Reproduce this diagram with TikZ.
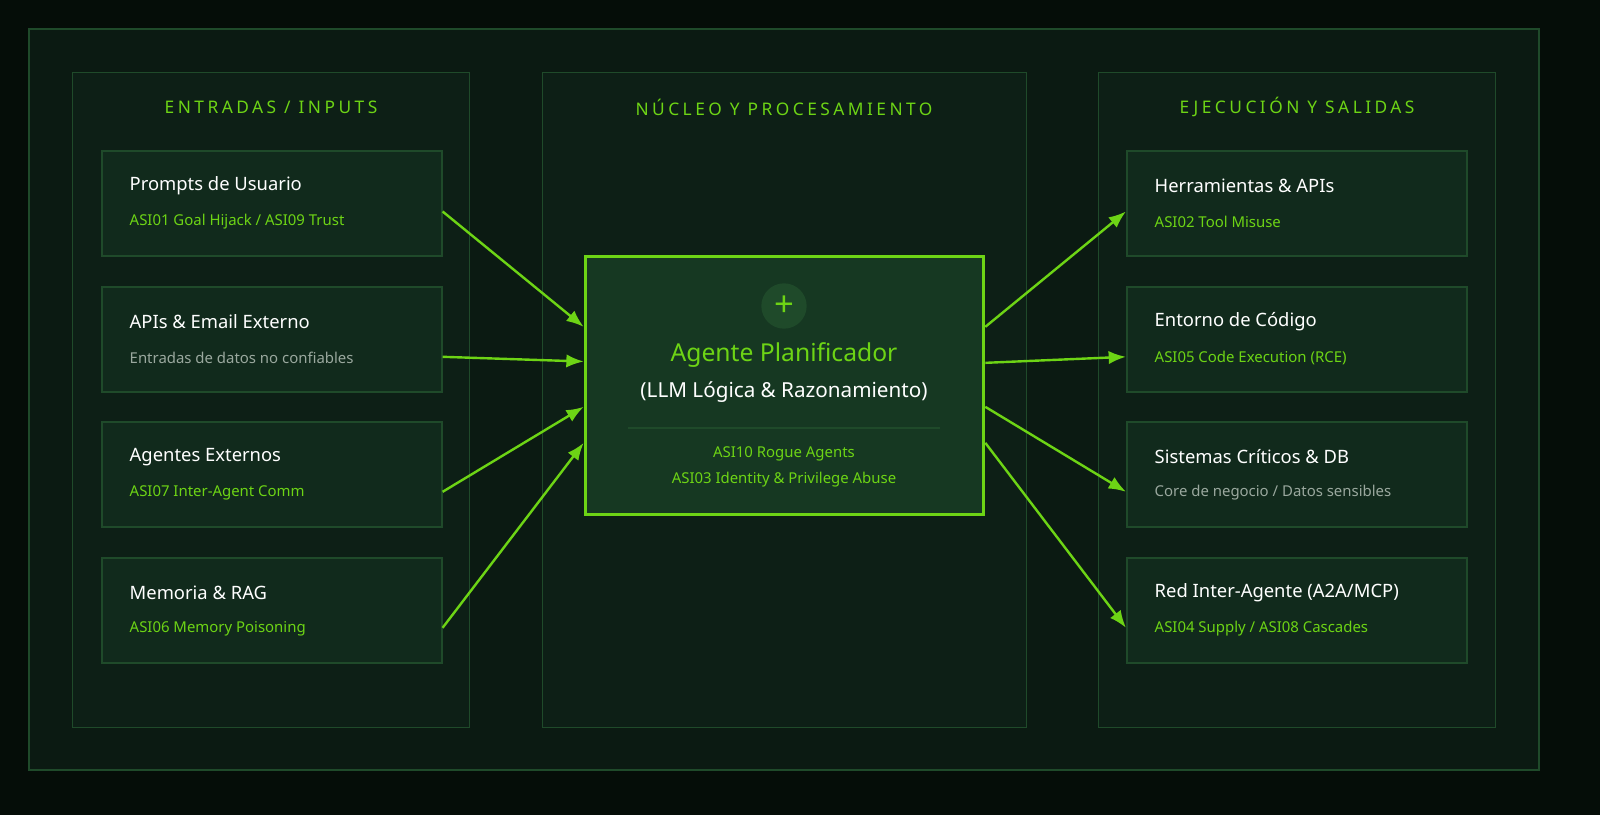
\documentclass[tikz,border=0pt]{standalone}
\usepackage{fontspec}
\setmainfont{Noto Sans}
\usetikzlibrary{arrows.meta,positioning}
\definecolor{bgdark}{HTML}{050D08}
\definecolor{framefill}{HTML}{0B1A12}
\definecolor{colfill}{HTML}{0D1F16}
\definecolor{boxfill}{HTML}{112A1C}
\definecolor{corefill}{HTML}{163822}
\definecolor{edgegreen}{HTML}{1F4A2A}
\definecolor{lime}{HTML}{6DD415}
\definecolor{greytext}{HTML}{9AA89E}
\tikzset{
  column/.style={draw=edgegreen, fill=colfill, line width=0.8pt, minimum width=298pt, minimum height=491pt, anchor=north west},
  coltitle/.style={text=lime, font=\fontsize{13}{14}\selectfont\addfontfeature{LetterSpace=20}},
  item/.style={draw=edgegreen, fill=boxfill, line width=1.2pt, minimum width=255pt, minimum height=79pt, anchor=north west},
  itemtitle/.style={text=white, font=\fontsize{13.8}{16}\selectfont, anchor=west},
  itemsub/.style={font=\fontsize{11.2}{13}\selectfont, anchor=west},
  flow/.style={draw=lime, line width=1.8pt, -{Latex[length=13pt,width=10pt]}}
}
\begin{document}
\begin{tikzpicture}[x=0.75pt,y=-0.75pt]
  \useasboundingbox[fill=bgdark] (0,0) rectangle (1600,815);
  \draw[draw=edgegreen, fill=framefill, line width=1.2pt] (29,29) rectangle (1539,770);
  % columns
  \node[column] (colin) at (72,72) {};
  \node[column, minimum width=363pt] (colcore) at (542,72) {};
  \node[column] (colout) at (1098,72) {};
  \node[coltitle] at (271,107) {ENTRADAS / INPUTS};
  \node[coltitle] at (784,107) {NÚCLEO Y PROCESAMIENTO};
  \node[coltitle] at (1297,107) {EJECUCIÓN Y SALIDAS};
  % inputs
  \node[item] (prompts) at (101,150) {};
  \node[item] (apis) at (101,286) {};
  \node[item] (agents) at (101,421) {};
  \node[item] (memory) at (101,557) {};
  \node[itemtitle] at (125,186) {Prompts de Usuario};
  \node[itemsub, text=lime] at (125,222) {ASI01 Goal Hijack / ASI09 Trust};
  \node[itemtitle] at (125,322) {APIs \& Email Externo};
  \node[itemsub, text=greytext] at (125,358) {Entradas de datos no confiables};
  \node[itemtitle] at (125,457) {Agentes Externos};
  \node[itemsub, text=lime] at (125,493) {ASI07 Inter-Agent Comm};
  \node[itemtitle] at (125,593) {Memoria \& RAG};
  \node[itemsub, text=lime] at (125,629) {ASI06 Memory Poisoning};
  % outputs
  \node[item] (tools) at (1126,150) {};
  \node[item] (code) at (1126,286) {};
  \node[item] (systems) at (1126,421) {};
  \node[item] (network) at (1126,557) {};
  \node[itemtitle] at (1150,186) {Herramientas \& APIs};
  \node[itemsub, text=lime] at (1150,222) {ASI02 Tool Misuse};
  \node[itemtitle] at (1150,322) {Entorno de Código};
  \node[itemsub, text=lime] at (1150,358) {ASI05 Code Execution (RCE)};
  \node[itemtitle] at (1150,457) {Sistemas Críticos \& DB};
  \node[itemsub, text=greytext] at (1150,493) {Core de negocio / Datos sensibles};
  \node[itemtitle] at (1150,593) {Red Inter-Agente (A2A/MCP)};
  \node[itemsub, text=lime] at (1150,629) {ASI04 Supply / ASI08 Cascades};
  % core
  \node[draw=lime, fill=corefill, line width=2.2pt, minimum width=299pt, minimum height=193pt] (core) at (784.5,385.5) {};
  \node[circle, fill=edgegreen, minimum size=34pt, inner sep=0pt, text=lime, font=\fontsize{26}{26}\selectfont] (icon) at (784,306) {+};
  \node[text=lime, font=\fontsize{18.5}{20}\selectfont] (coretitle) at (784,355) {Agente Planificador};
  \node[text=white, font=\fontsize{15.5}{18}\selectfont] (coresub) at (784,392) {(LLM Lógica \& Razonamiento)};
  \draw[edgegreen, line width=0.8pt] (628,428) -- (940,428);
  \node[text=lime, font=\fontsize{11.2}{13}\selectfont] at (784,454) {ASI10 Rogue Agents};
  \node[text=lime, font=\fontsize{11.2}{13}\selectfont] at (784,480) {ASI03 Identity \& Privilege Abuse};
  % flows
  \draw[flow] ([yshift=-6pt]prompts.east) -- ([yshift=44pt]core.west);
  \draw[flow] ([yshift=-13pt]apis.east) -- ([yshift=18pt]core.west);
  \draw[flow] ([yshift=-13pt]agents.east) -- ([yshift=-16pt]core.west);
  \draw[flow] ([yshift=-13pt]memory.east) -- ([yshift=-43pt]core.west);
  \draw[flow] ([yshift=44pt]core.east) -- ([yshift=-6pt]tools.west);
  \draw[flow] ([yshift=17pt]core.east) -- ([yshift=-13pt]code.west);
  \draw[flow] ([yshift=-16pt]core.east) -- ([yshift=-13pt]systems.west);
  \draw[flow] ([yshift=-43pt]core.east) -- ([yshift=-13pt]network.west);
\end{tikzpicture}
\end{document}
